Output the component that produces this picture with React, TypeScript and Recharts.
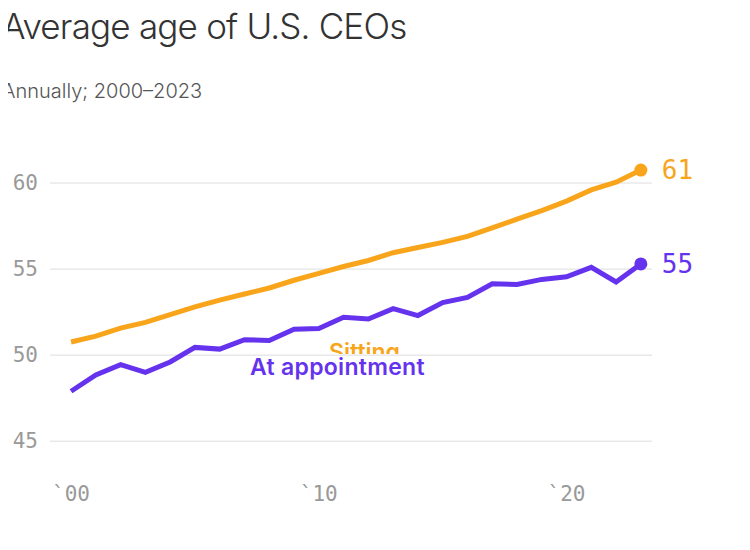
import React from "react";
import { LineChart, Line, XAxis, YAxis, CartesianGrid, LabelList } from "recharts";

const years = [0,1,2,3,4,5,6,7,8,9,10,11,12,13,14,15,16,17,18,19,20,21,22,23];
const sitting = [50.76,51.1,51.57,51.9,52.35,52.8,53.2,53.55,53.9,54.35,54.75,55.15,55.5,55.95,56.25,56.55,56.9,57.4,57.9,58.4,58.95,59.6,60.05,60.75];
const appointment = [47.9,48.85,49.45,49.0,49.6,50.45,50.35,50.9,50.85,51.5,51.55,52.2,52.1,52.7,52.3,53.05,53.35,54.15,54.1,54.4,54.55,55.1,54.25,55.3];
const yTicks = [45, 50, 55, 60];
const xTicks = [0, 10, 20];
const xTickLabels: Record<number, string> = { 0: "`00", 10: "`10", 20: "`20" };

const ORANGE = "#F8A51B";
const PURPLE = "#6533EE";
const MONO = "'DejaVu Sans Mono', 'Liberation Mono', monospace";
const SANS = "Inter, 'Noto Sans', sans-serif";

const data = years.map((y, i) => ({ year: y, sitting: sitting[i], appointment: appointment[i] }));

const EndLabel = (color: string, text: string) => (props: any) => {
  const { x, y, index } = props;
  if (index !== years.length - 1) return null;
  return (
    <g>
      <circle cx={x} cy={y} r={6.5} fill={color} />
      <text x={x + 21} y={y + 9} fill={color} fontFamily={MONO} fontSize={26}>{text}</text>
    </g>
  );
};

export default function App() {
  return (
    <div style={{ position: "relative", width: 750, height: 550, margin: -8, background: "#fff" }}>
      <div style={{ position: "absolute", left: 2, top: 5, fontFamily: SANS, fontSize: 35, fontWeight: 300, color: "#333", letterSpacing: -0.8 }}>
        Average age of U.S. CEOs
      </div>
      <div style={{ position: "absolute", left: 2, top: 79, fontFamily: SANS, fontSize: 20, fontWeight: 300, color: "#555" }}>
        Annually; 2000–2023
      </div>
      <div style={{ position: "absolute", left: 0, top: 0 }}>
        <LineChart width={750} height={550} data={data} margin={{ top: 140, bottom: 0, left: 0, right: 98 }}>
          <CartesianGrid vertical={false} stroke="#ddd" horizontalValues={yTicks} />
          <XAxis dataKey="year" type="number" domain={[-0.85, 23.45]} ticks={xTicks} axisLine={false} tickLine={false} height={83}
            tick={(p: any) => (
              <text x={p.x} y={p.y + 26} textAnchor="middle" fill="#999" fontFamily={MONO} fontSize={21}>{xTickLabels[p.payload.value]}</text>
            )} />
          <YAxis type="number" domain={[43.5, 62.5]} ticks={yTicks} axisLine={false} tickLine={false} width={50}
            tick={(p: any) => (
              <text x={38} y={p.y + 7} textAnchor="end" fill="#999" fontFamily={MONO} fontSize={21}>{p.payload.value}</text>
            )} />
          <Line dataKey="sitting" stroke={ORANGE} strokeWidth={5} dot={false} isAnimationActive={false}>
            <LabelList content={EndLabel(ORANGE, "61")} />
          </Line>
          <Line dataKey="appointment" stroke={PURPLE} strokeWidth={5} dot={false} isAnimationActive={false}>
            <LabelList content={EndLabel(PURPLE, "55")} />
          </Line>
        </LineChart>
      </div>
      <div style={{ position: "absolute", left: 329, top: 337, height: 17, overflow: "hidden", fontFamily: SANS, fontSize: 23, fontWeight: 600, color: ORANGE, lineHeight: "30px" }}>
        Sitting
      </div>
      <div style={{ position: "absolute", left: 250, top: 352, fontFamily: SANS, fontSize: 23, fontWeight: 600, color: PURPLE, lineHeight: "30px", letterSpacing: 0.3 }}>
        At appointment
      </div>
    </div>
  );
}
